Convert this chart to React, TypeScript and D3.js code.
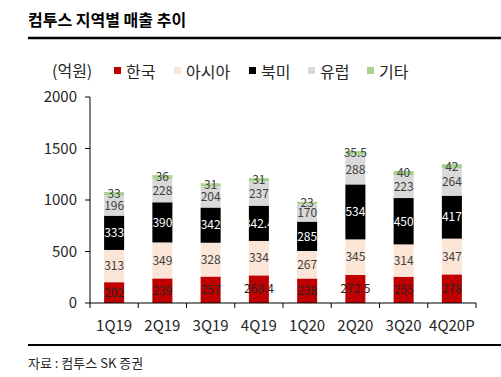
import React from "react";
import * as d3 from "d3";

const categories = ["1Q19", "2Q19", "3Q19", "4Q19", "1Q20", "2Q20", "3Q20", "4Q20P"];
const seriesNames = ["한국", "아시아", "북미", "유럽", "기타"];
const korea = [202, 239, 257, 268.4, 238, 272.5, 255, 278];
const asia = [313, 349, 328, 334, 267, 345, 314, 347];
const northAmerica = [333, 390, 342, 342.4, 285, 534, 450, 417];
const europe = [196, 228, 204, 237, 170, 288, 223, 264];
const others = [33, 36, 31, 31, 23, 35.5, 40, 42];
const yTicks = [0, 500, 1000, 1500, 2000];

const colors = ["#C00000", "#FBE5D6", "#000000", "#D9D9D9", "#A9D18E"];
const labelColors = ["#262626", "#404040", "#FFFFFF", "#404040", "#404040"];
const FONT = "'Noto Sans CJK KR', 'Noto Sans', sans-serif";

export default function App() {
  const W = 501, H = 377;
  const left = 90, right = 476, top = 97, bottom = 303;
  const seriesValues = [korea, asia, northAmerica, europe, others];
  const rows = categories.map((c, i) => {
    const r: any = { cat: c };
    seriesNames.forEach((s, k) => (r[s] = seriesValues[k][i]));
    return r;
  });
  const stack = d3.stack<any>().keys(seriesNames)(rows);
  const y = d3.scaleLinear().domain([0, 2000]).range([bottom, top]);
  const x = d3.scaleBand().domain(categories).range([left, right]).paddingInner(0.585).paddingOuter(0.2925);
  const step = x.step();
  const legendX = [114, 174, 249, 308, 367];

  const clipIds = categories.map((_, i) => `clip${i}`);

  return (
    <div style={{ position: "fixed", left: 0, top: 0 }}>
      <svg width={W} height={H} style={{ display: "block", background: "#fff" }} fontFamily={FONT}>
        <text x={28} y={26} fontSize={16} fontWeight="bold" fill="#000">컴투스 지역별 매출 추이</text>
        <line x1={28} x2={501} y1={38} y2={38} stroke="#000" strokeWidth={2.5} />

        <text x={52} y={77} fontSize={16} fill="#262626">(억원)</text>
        {seriesNames.map((s, k) => (
          <g key={s}>
            <rect x={legendX[k]} y={67} width={7} height={7} fill={colors[k]} />
            <text x={legendX[k] + 12} y={78} fontSize={16} fill="#262626">{s}</text>
          </g>
        ))}

        {/* y axis */}
        <line x1={left} x2={left} y1={top} y2={bottom} stroke="#000" strokeWidth={1} />
        {yTicks.map((t) => (
          <g key={t}>
            <line x1={left - 5} x2={left} y1={y(t)} y2={y(t)} stroke="#000" />
            <text x={left - 13} y={y(t)} dy="0.35em" textAnchor="end" fontSize={15} fill="#262626">{t}</text>
          </g>
        ))}

        <defs>
          {categories.map((c, i) => (
            <clipPath id={clipIds[i]} key={c}>
              <rect x={x(c)!} y={0} width={x.bandwidth()} height={H} />
            </clipPath>
          ))}
        </defs>

        {stack.map((layer, k) => (
          <g key={layer.key}>
            {layer.map((d, i) => (
              <rect key={i} x={x(categories[i])!} y={y(d[1])} width={x.bandwidth()} height={y(d[0]) - y(d[1])} fill={colors[k]} />
            ))}
          </g>
        ))}

        {stack.map((layer, k) => (
          <g key={"l" + layer.key}>
            {layer.map((d, i) => {
              const cx = x(categories[i])! + x.bandwidth() / 2;
              const cy = (y(d[0]) + y(d[1])) / 2;
              const v = seriesValues[k][i];
              return (
                <text key={i} x={cx} y={cy} dy="0.36em" textAnchor="middle" fontSize={12} fill={labelColors[k]}
                  clipPath={k === 2 ? `url(#${clipIds[i]})` : undefined}>
                  {v}
                </text>
              );
            })}
          </g>
        ))}

        {/* x axis */}
        <line x1={left} x2={right} y1={bottom} y2={bottom} stroke="#000" />
        {d3.range(categories.length + 1).map((i) => (
          <line key={i} x1={left + i * step} x2={left + i * step} y1={bottom} y2={bottom + 5} stroke="#000" />
        ))}
        {categories.map((c) => (
          <text key={c} x={x(c)! + x.bandwidth() / 2} y={326} dy="0.35em" textAnchor="middle" fontSize={15} fill="#262626">{c}</text>
        ))}

        <line x1={28} x2={501} y1={345} y2={345} stroke="#000" strokeWidth={2} />
        <text x={28} y={368} fontSize={13} fill="#262626">자료 : 컴투스 SK 증권</text>
      </svg>
    </div>
  );
}
